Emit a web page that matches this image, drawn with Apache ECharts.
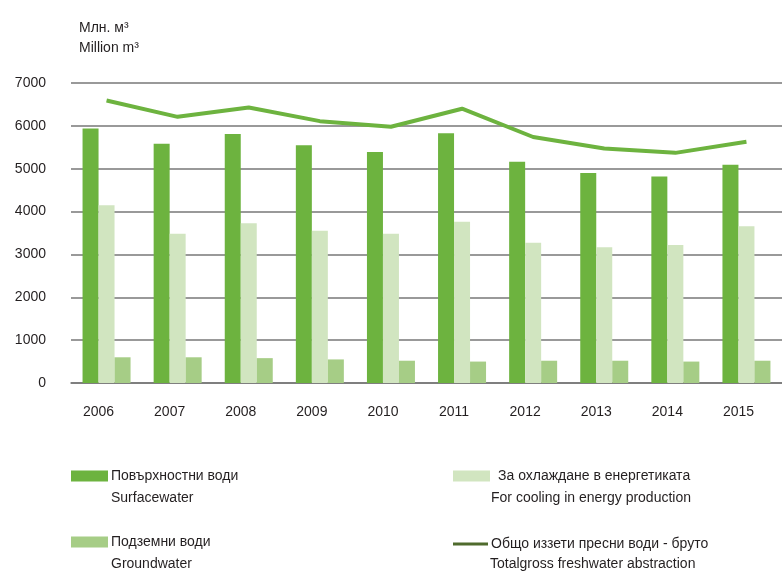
<!DOCTYPE html>
<html>
<head>
<meta charset="utf-8">
<script src="https://cdn.jsdelivr.net/npm/echarts@6/dist/echarts.min.js"></script>
<style>
  html, body { margin: 0; padding: 0; background: #fff; }
  #main { width: 782px; height: 571px; }
</style>
</head>
<body>
<div id="main"></div>
<script>
// данни
var years = ['2006', '2007', '2008', '2009', '2010', '2011', '2012', '2013', '2014', '2015'];
var surface = [5940, 5580, 5810, 5550, 5390, 5830, 5160, 4900, 4820, 5090];
var cooling = [4150, 3480, 3730, 3550, 3480, 3760, 3270, 3170, 3220, 3660];
var ground = [600, 600, 580, 550, 520, 500, 520, 520, 500, 520];
var total = [6590, 6210, 6430, 6110, 5980, 6400, 5740, 5470, 5370, 5630];
var yTicks = [0, 1000, 2000, 3000, 4000, 5000, 6000, 7000];

var names = ['Повърхностни води', 'За охлаждане в енергетиката', 'Подземни води', 'Общо иззети пресни води - бруто'];
var namesEn = ['Surfacewater', 'For cooling in energy production', 'Groundwater', 'Totalgross freshwater abstraction'];

var font = "'Liberation Sans Narrow', 'Liberation Sans', sans-serif";
var ink = '#231f20';

var myChart = echarts.init(document.getElementById('main'));

function legendBox(i, left, top, extra) {
    var l = {
        data: [{ name: names[i], icon: 'rect' }],
        left: left,
        top: top,
        itemWidth: 37,
        itemHeight: 11,
        itemGap: 0,
        padding: 0,
        textStyle: { fontFamily: font, fontSize: 14, color: ink, padding: [0, 0, 0, -2] }
    };
    return Object.assign(l, extra || {});
}

function enText(i, left, top) {
    return { type: 'text', left: left, top: top, style: { text: namesEn[i], font: '14px ' + font, fill: ink } };
}

var option = {
    animation: false,
    textStyle: { fontFamily: font },
    title: {
        text: 'Млн. м³\nMillion m³',
        left: 74,
        top: 13,
        textStyle: { fontFamily: font, fontSize: 14, fontWeight: 'normal', color: ink, lineHeight: 20 }
    },
    grid: { left: 71, right: 0, top: 83, bottom: 188 },
    legend: [
        legendBox(0, 71, 469),
        legendBox(1, 453, 469, { textStyle: { fontFamily: font, fontSize: 14, color: ink, padding: [0, 0, 0, 3] } }),
        legendBox(2, 71, 535),
        legendBox(3, 453, 537, { itemWidth: 35, itemHeight: 3, itemStyle: { color: '#4f6b2d' } })
    ],
    graphic: [
        enText(0, 111, 491),
        enText(1, 491, 491),
        enText(2, 111, 557),
        enText(3, 490, 557)
    ],
    xAxis: {
        type: 'category',
        data: years,
        axisTick: { show: false },
        axisLine: { lineStyle: { color: '#777', width: 1.5 } },
        axisLabel: { color: ink, fontSize: 14, margin: 22, fontFamily: font, padding: [0, 16, 0, 0] }
    },
    yAxis: {
        type: 'value',
        min: yTicks[0],
        max: yTicks[yTicks.length - 1],
        interval: 1000,
        axisLine: { show: false },
        axisTick: { show: false },
        axisLabel: {
            color: ink, fontSize: 14, margin: 25, fontFamily: font,
            formatter: function (v) { return String(v); }
        },
        splitLine: { lineStyle: { color: '#777', width: 1.5 } }
    },
    series: [
        { name: names[0], type: 'bar', data: surface, barWidth: 16, barGap: '0%', itemStyle: { color: '#6db33f' } },
        { name: names[1], type: 'bar', data: cooling, barWidth: 16, barGap: '0%', itemStyle: { color: '#d1e5c0' } },
        { name: names[2], type: 'bar', data: ground, barWidth: 16, barGap: '0%', itemStyle: { color: '#a6cd86' } },
        {
            name: names[3], type: 'line', data: total,
            symbol: 'none',
            lineStyle: { color: '#6db33f', width: 4 },
            itemStyle: { color: '#6db33f' }
        }
    ]
};

myChart.setOption(option);
</script>
</body>
</html>
